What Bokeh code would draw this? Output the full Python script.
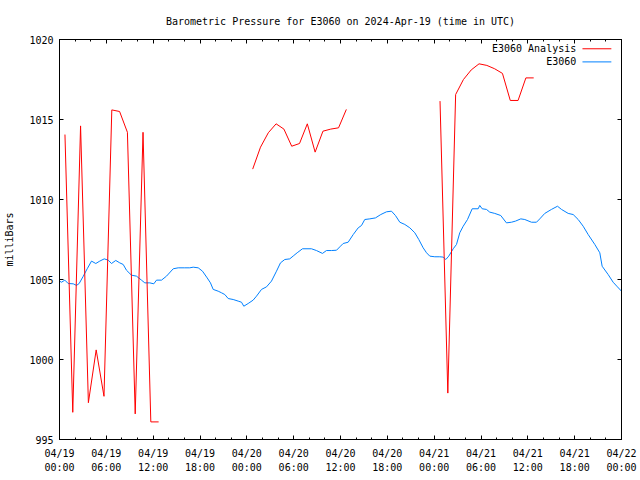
from bokeh.plotting import figure
from bokeh.models import Range1d, FixedTicker, LinearAxis, Label, ColumnDataSource
from bokeh.embed import file_html
from bokeh.resources import INLINE

nan = float("nan")

# ---- data (hours since 2024-04-19 00:00 UTC) ----
analysis_hours = [0.7, 1.7, 2.7, 3.7, 4.7, 5.7, 6.7, 7.7, 8.7, 9.7, 10.7, 11.7, 12.7,
                  18.0,
                  24.75, 25.75, 26.75, 27.75, 28.75, 29.75, 30.75, 31.75, 32.75, 33.75, 34.75, 35.75, 36.75,
                  42.0,
                  48.75, 49.75, 50.75, 51.75, 52.75, 53.75, 54.75, 55.75, 56.75, 57.75, 58.75, 59.75, 60.75]
analysis_mb = [1014.06, 996.7, 1014.6, 997.3, 1000.6, 997.7, 1015.6, 1015.5, 1014.2, 996.6, 1014.2, 996.1, 996.1,
               nan,
               1011.9, 1013.27, 1014.17, 1014.73, 1014.4, 1013.33, 1013.5, 1014.73, 1012.96, 1014.27, 1014.4, 1014.48, 1015.63,
               nan,
               1016.15, 997.9, 1016.56, 1017.5, 1018.1, 1018.48, 1018.38, 1018.17, 1017.88, 1016.19, 1016.19, 1017.6, 1017.6]

station_hours = [0.0, 0.26, 0.68, 1.11, 1.76, 2.18, 2.52, 3.04, 3.55, 4.10, 4.65, 5.16, 5.73, 6.24, 6.66,
                 7.21, 7.72, 8.16, 8.58, 9.22, 9.86, 10.50, 10.93, 11.57, 12.08, 12.43, 13.07, 13.71, 14.57,
                 15.21, 16.05, 16.69, 17.13, 17.77, 18.32, 18.92, 19.34, 19.69, 20.33, 20.75, 21.18, 21.61,
                 22.25, 22.89, 23.32, 23.61, 24.17, 24.81, 25.24, 25.88, 26.52, 27.16, 27.80, 28.31, 28.86,
                 29.50, 30.02, 30.45, 31.13, 32.28, 32.92, 33.69, 34.20, 34.85, 35.49, 35.91, 36.34, 36.98,
                 37.63, 38.27, 38.69, 39.11, 39.75, 40.48, 41.16, 41.89, 42.53, 43.04, 43.60, 44.24, 44.88,
                 45.52, 46.03, 46.59, 47.02, 47.44, 48.08, 48.72, 49.15, 49.49, 49.87, 50.44, 50.86, 51.28,
                 51.72, 52.27, 52.87, 53.64, 53.84, 54.15, 54.70, 55.12, 55.76, 56.53, 57.26, 57.90, 58.42,
                 59.10, 59.61, 60.47, 61.11, 61.53, 62.17, 63.03, 63.80, 64.31, 65.17, 65.81, 66.45, 67.09,
                 67.73, 68.58, 69.22, 69.52, 70.29, 70.93, 71.48, 72.0]
station_mb = [1004.9, 1004.83, 1004.96, 1004.75, 1004.73, 1004.63, 1004.75, 1005.2, 1005.67, 1006.15, 1006.0,
              1006.15, 1006.29, 1006.21, 1006.0, 1006.19, 1006.04, 1005.94, 1005.58, 1005.27, 1005.21, 1004.96,
              1004.79, 1004.79, 1004.73, 1004.96, 1004.96, 1005.21, 1005.67, 1005.73, 1005.73, 1005.73, 1005.77,
              1005.73, 1005.52, 1005.1, 1004.79, 1004.38, 1004.27, 1004.17, 1004.06, 1003.81, 1003.75, 1003.65,
              1003.58, 1003.33, 1003.5, 1003.71, 1003.96, 1004.38, 1004.54, 1004.9, 1005.52, 1006.04, 1006.25,
              1006.29, 1006.5, 1006.67, 1006.92, 1006.92, 1006.81, 1006.63, 1006.81, 1006.81, 1006.83, 1007.04,
              1007.25, 1007.33, 1007.81, 1008.23, 1008.375, 1008.75, 1008.79, 1008.85, 1009.06, 1009.23, 1009.27,
              1009.0, 1008.58, 1008.44, 1008.23, 1007.92, 1007.5, 1006.98, 1006.67, 1006.46, 1006.42, 1006.42,
              1006.4, 1006.25, 1006.46, 1006.92, 1007.19, 1007.92, 1008.33, 1008.75, 1009.42, 1009.42, 1009.63,
              1009.42, 1009.38, 1009.21, 1009.13, 1009.0, 1008.54, 1008.58, 1008.65, 1008.79, 1008.75, 1008.58,
              1008.58, 1008.79, 1009.13, 1009.38, 1009.58, 1009.38, 1009.13, 1009.06, 1008.75, 1008.33, 1007.81,
              1007.19, 1006.67, 1005.83, 1005.31, 1004.83, 1004.54, 1004.27]

x_tick_hours = [0, 6, 12, 18, 24, 30, 36, 42, 48, 54, 60, 66, 72]
x_tick_labels = ["04/19\n00:00", "04/19\n06:00", "04/19\n12:00", "04/19\n18:00",
                 "04/20\n00:00", "04/20\n06:00", "04/20\n12:00", "04/20\n18:00",
                 "04/21\n00:00", "04/21\n06:00", "04/21\n12:00", "04/21\n18:00",
                 "04/22\n00:00"]
x_minor_hours = list(range(0, 73, 2))
y_ticks = [995, 1000, 1005, 1010, 1015, 1020]

series_names = ["E3060 Analysis", "E3060"]
series_colors = ["#ff0000", "#0080ff"]

FONT = "DejaVu Sans Mono"
FS = "10px"

p = figure(width=640, height=480, output_backend="svg", toolbar_location=None,
           x_range=Range1d(0, 72), y_range=Range1d(995, 1020),
           min_border_left=59, min_border_right=19, min_border_top=39, min_border_bottom=41,
           background_fill_color="white", border_fill_color="white")

p.title.text = "Barometric Pressure for E3060 on 2024-Apr-19 (time in UTC)"
p.title.align = "center"
p.title.text_font = FONT
p.title.text_font_size = FS
p.title.text_font_style = "normal"
p.title.text_color = "black"
p.title.standoff = 26

p.xgrid.visible = False
p.ygrid.visible = False
p.outline_line_color = "black"
p.outline_line_width = 1

xt = FixedTicker(ticks=x_tick_hours, minor_ticks=x_minor_hours)
yt = FixedTicker(ticks=y_ticks, minor_ticks=[])

def style_axis(ax):
    ax.axis_line_color = "black"
    ax.major_tick_in = 4
    ax.major_tick_out = 0
    ax.minor_tick_in = 2
    ax.minor_tick_out = 0
    ax.major_tick_line_color = "black"
    ax.minor_tick_line_color = "black"
    ax.major_label_text_font = FONT
    ax.major_label_text_font_size = FS
    ax.major_label_text_color = "black"
    ax.axis_label_text_font = FONT
    ax.axis_label_text_font_size = FS
    ax.axis_label_text_font_style = "normal"
    ax.axis_label_text_color = "black"

xa = p.xaxis[0]
xa.ticker = xt
style_axis(xa)
xa.major_label_overrides = {h: lab for h, lab in zip(x_tick_hours, x_tick_labels)}
xa.major_label_standoff = 8
xa.major_label_text_line_height = 1.3

ya = p.yaxis[0]
ya.ticker = yt
style_axis(ya)
ya.minor_tick_in = 0
ya.major_label_standoff = 6
ya.axis_label = "milliBars"
ya.axis_label_standoff = 11

# mirrored tick marks on top and right (no labels)
top = LinearAxis(ticker=FixedTicker(ticks=x_tick_hours, minor_ticks=x_minor_hours))
style_axis(top)
top.major_label_overrides = {h: "" for h in x_tick_hours}
top.major_label_text_color = None
top.major_label_standoff = 0
p.add_layout(top, "above")

right = LinearAxis(ticker=FixedTicker(ticks=y_ticks, minor_ticks=[]))
style_axis(right)
right.minor_tick_in = 0
right.major_label_overrides = {t: "" for t in y_ticks}
right.major_label_text_color = None
right.major_label_standoff = 0
p.add_layout(right, "right")

src_a = ColumnDataSource(dict(x=analysis_hours, y=analysis_mb))
src_s = ColumnDataSource(dict(x=station_hours, y=station_mb))
p.line("x", "y", source=src_s, line_color=series_colors[1], line_width=1)
p.line("x", "y", source=src_a, line_color=series_colors[0], line_width=1)

# key (gnuplot style: text then sample line)
key_y = [1019.42, 1018.6]
for name, col, ky in zip(series_names, series_colors, key_y):
    p.add_layout(Label(x=66.2, y=ky, text=name, text_align="right", text_baseline="middle",
                       text_font=FONT, text_font_size=FS, text_color="black"))
    p.segment(x0=[67.0], y0=[ky], x1=[70.7], y1=[ky], line_color=col, line_width=1)

open("out.html", "w").write(file_html(p, INLINE))
